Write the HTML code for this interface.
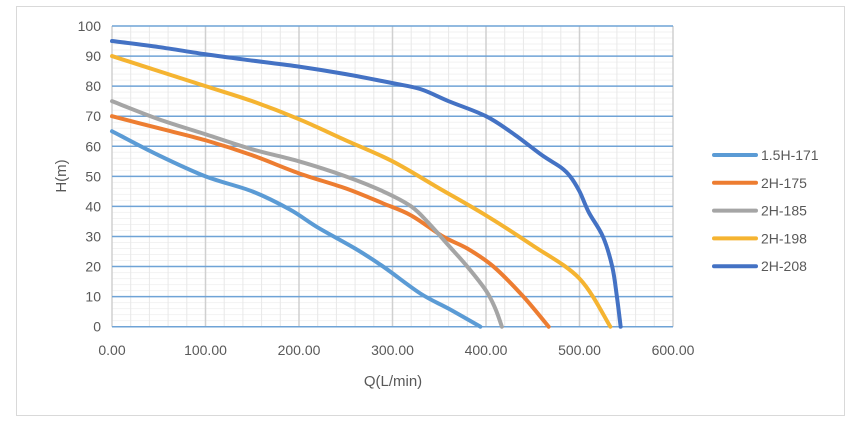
<!DOCTYPE html>
<html><head><meta charset="utf-8"><style>
body{margin:0;background:#fff;}
svg{display:block;font-family:"Liberation Sans",sans-serif;}
</style></head><body>
<svg id="chart" width="856" height="425">
<rect x="16.5" y="6.5" width="828" height="409" fill="#fff" stroke="#d9d9d9"/>
<g id="grid"></g><g id="axes"></g><g id="series"></g><g id="legend"></g>
<text x="393" y="386" font-size="15" fill="#595959" text-anchor="middle">Q(L/min)</text>
<text transform="translate(66,176) rotate(-90)" font-size="15" fill="#595959" text-anchor="middle">H(m)</text>
</svg>
<script>
const seriesNames=["1.5H-171","2H-175","2H-185","2H-198","2H-208"];
const seriesColors=["#5b9bd5","#ed7d31","#a5a5a5","#f5b431","#4472c4"];
const q171=[0,50,100,150,190,220,260,290,330,360,394];
const h171=[65,57,50,45,39,33,26,20,11,6,0];
const q175=[0,50,100,150,200,250,290,320,354,380,408,440,467];
const h175=[70,66,62,57,51,46,41,37,30,26,20,10,0];
const q185=[0,50,100,150,200,250,290,320,340,360,380,400,410,417];
const h185=[75,69,64,59,55,50,45,40,34,27,20,12,6,0];
const q198=[0,50,100,150,200,250,300,350,400,450,500,533];
const h198=[90,85,80,75,69,62,55,46,37,27,16,0];
const q208=[0,50,100,150,200,250,300,330,360,400,430,460,480,490,500,510,525,535,540,544];
const h208=[95,93,90.6,88.5,86.5,84,81,79,75,70,64,57,53,50,45,38,30,20,10,0];
const xTicks=[0,100,200,300,400,500,600];
const yTicks=[0,10,20,30,40,50,60,70,80,90,100];
const Q=[q171,q175,q185,q198,q208], H=[h171,h175,h185,h198,h208];
const NS="http://www.w3.org/2000/svg";
const X=v=>112+v*0.935, Y=v=>326.7-v*3.007;
function mk(t,a,p){const e=document.createElementNS(NS,t);for(const k in a)e.setAttribute(k,a[k]);p.appendChild(e);return e;}
const grid=document.getElementById('grid'),axes=document.getElementById('axes'),ser=document.getElementById('series'),leg=document.getElementById('legend');
for(let v=0;v<=100;v+=2){if(v%10){const l=mk('line',{x1:X(0),x2:X(600),y1:Y(v),y2:Y(v),stroke:'#f2f2f2','stroke-width':1},grid);

}}
for(let v=20;v<600;v+=20){if(v%100){const l=mk('line',{x1:X(v),x2:X(v),y1:Y(0),y2:Y(100),stroke:'#e8e8e8','stroke-width':1},grid);

}}
xTicks.forEach(v=>{const l=mk('line',{x1:X(v),x2:X(v),y1:Y(0),y2:Y(100),stroke:'#d0d0d0','stroke-width':1.5},grid);


const t=mk('text',{x:X(v),y:355,'font-size':14,fill:'#595959','text-anchor':'middle'},axes);t.textContent=v.toFixed(2);

});
yTicks.forEach(v=>{const l=mk('line',{x1:X(0),x2:X(600),y1:Y(v),y2:Y(v),stroke:'#6fa3d6','stroke-width':1.5},grid);


const t=mk('text',{x:101,y:Y(v)+5,'font-size':14,fill:'#595959','text-anchor':'end'},axes);t.textContent=v;

});
function path(xs,ys){const p=xs.map((q,i)=>[X(q),Y(ys[i])]);let d='M'+p[0][0]+','+p[0][1];
for(let i=0;i<p.length-1;i++){const p0=p[i-1]||p[i],p1=p[i],p2=p[i+1],p3=p[i+2]||p2;
d+=' C'+(p1[0]+(p2[0]-p0[0])/6)+','+(p1[1]+(p2[1]-p0[1])/6)+' '+(p2[0]-(p3[0]-p1[0])/6)+','+(p2[1]-(p3[1]-p1[1])/6)+' '+p2[0]+','+p2[1];}return d;}
seriesNames.forEach((n,i)=>{const l=mk('path',{d:path(Q[i],H[i]),fill:'none',stroke:seriesColors[i],'stroke-width':4,'stroke-linecap':'round','stroke-linejoin':'round'},ser);


const y=155+i*27.8;
const g=mk('g',{},leg);


mk('line',{x1:714,x2:756,y1:y,y2:y,stroke:seriesColors[i],'stroke-width':4,'stroke-linecap':'round'},g);
const t=mk('text',{x:761,y:y+5,'font-size':14,fill:'#595959'},g);t.textContent=n;});
</script>
</body></html>
